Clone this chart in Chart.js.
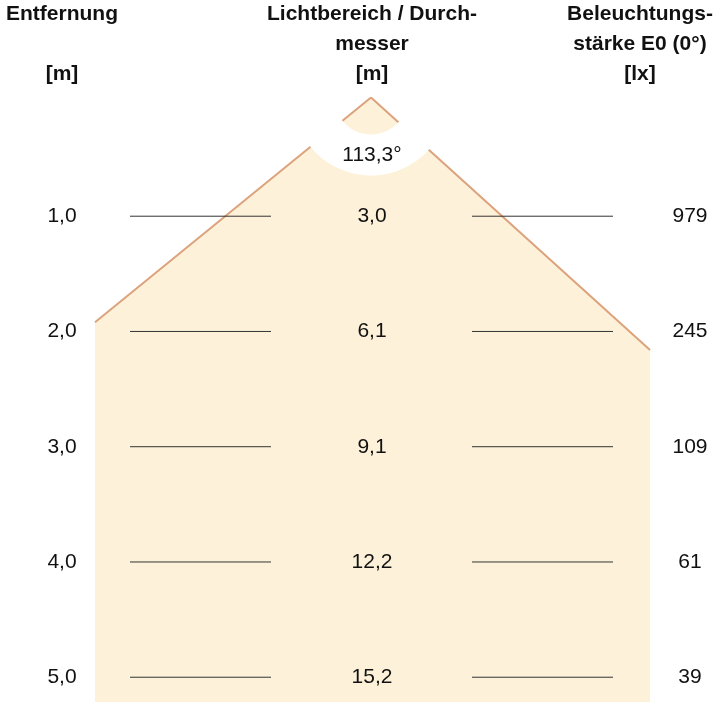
<!DOCTYPE html>
<html><head><meta charset="utf-8">
<script src="https://cdn.jsdelivr.net/npm/chart.js@4"></script>
<style>html,body{margin:0;padding:0;background:#fff}#wrap{width:720px;height:702px}</style>
</head><body><div id="wrap"><canvas id="c"></canvas></div>
<script>
// distances in metres, diameters, illuminance
const distances = [1.0, 2.0, 3.0, 4.0, 5.0];
const diameters = ['3,0', '6,1', '9,1', '12,2', '15,2'];
const luxValues = ['979', '245', '109', '61', '39'];
const beamAngle = '113,3°';
const headers = [
    {x: 62, lines: ['Entfernung', '', '[m]']},
    {x: 372, lines: ['Lichtbereich / Durch-', 'messer', '[m]']},
    {x: 640, lines: ['Beleuchtungs-', 'stärke E0 (0°)', '[lx]']}
];

// y axis is distance in metres; x axis is in pixels across the drawing
const apex = {x: 371, y: -0.03};
const conePoly = [apex, {x: 95, y: 1.92}, {x: 95, y: 5.22}, {x: 650, y: 5.22}, {x: 650, y: 2.16}];
const leftEdge = [apex, {x: 95, y: 1.92}];
const rightEdge = [apex, {x: 650, y: 2.16}];

function fmt(v) { return v.toFixed(1).replace('.', ','); }

const datasets = [
    {data: leftEdge, showLine: true, borderColor: '#dca27c', borderWidth: 2, pointRadius: 0, order: 4},
    {data: rightEdge, showLine: true, borderColor: '#dca27c', borderWidth: 2, pointRadius: 0, order: 4}
];
distances.forEach(d => {
    datasets.push({data: [{x: 130, y: d}, {x: 271, y: d}], showLine: true, borderColor: '#333', borderWidth: 1, pointRadius: 0, order: 1});
    datasets.push({data: [{x: 472, y: d}, {x: 613, y: d}], showLine: true, borderColor: '#333', borderWidth: 1, pointRadius: 0, order: 1});
});

const cone = {
    id: 'cone',
    beforeDatasetsDraw(chart) {
        const ctx = chart.ctx, xs = chart.scales.x, ys = chart.scales.y;
        ctx.save();
        ctx.beginPath();
        conePoly.forEach((p, i) => {
            const px = xs.getPixelForValue(p.x), py = ys.getPixelForValue(p.y);
            if (i === 0) ctx.moveTo(px, py); else ctx.lineTo(px, py);
        });
        ctx.closePath();
        ctx.fillStyle = '#fdf2d9';
        ctx.fill();
        ctx.restore();
    }
};

const overlay = {
    id: 'overlay',
    afterDatasetsDraw(chart) {
        const ctx = chart.ctx, xs = chart.scales.x, ys = chart.scales.y;
        const ax = xs.getPixelForValue(apex.x), ay = ys.getPixelForValue(apex.y);
        // white band around the beam angle label
        ctx.save();
        ctx.beginPath();
        ctx.arc(ax, ay, 78, Math.PI * 0.15, Math.PI * 0.85);
        ctx.arc(ax, ay, 37, Math.PI * 0.85, Math.PI * 0.15, true);
        ctx.closePath();
        ctx.fillStyle = '#fff';
        ctx.fill();
        ctx.fillStyle = '#111';
        ctx.textAlign = 'center';
        ctx.textBaseline = 'middle';
        ctx.font = '21px "Liberation Sans", Arial, sans-serif';
        ctx.fillText(beamAngle, ax + 1, ay + 58);
        distances.forEach((d, i) => {
            const y = ys.getPixelForValue(d);
            ctx.fillText(fmt(d), 62, y);
            ctx.fillText(diameters[i], 372, y);
            ctx.fillText(luxValues[i], 690, y);
        });
        ctx.font = 'bold 21px "Liberation Sans", Arial, sans-serif';
        headers.forEach(h => h.lines.forEach((t, k) => ctx.fillText(t, h.x, 14 + k * 30)));
        ctx.restore();
    }
};

new Chart(document.getElementById('c').getContext('2d'), {
    type: 'scatter',
    data: {datasets: datasets},
    options: {
        responsive: true, maintainAspectRatio: false, animation: false,
        layout: {padding: 0},
        plugins: {legend: {display: false}, tooltip: {enabled: false}},
        scales: {
            x: {type: 'linear', min: 0, max: 720, display: false},
            y: {type: 'linear', min: -0.876, max: 5.215, reverse: true, display: false}
        }
    },
    plugins: [cone, overlay]
});
</script></body></html>
